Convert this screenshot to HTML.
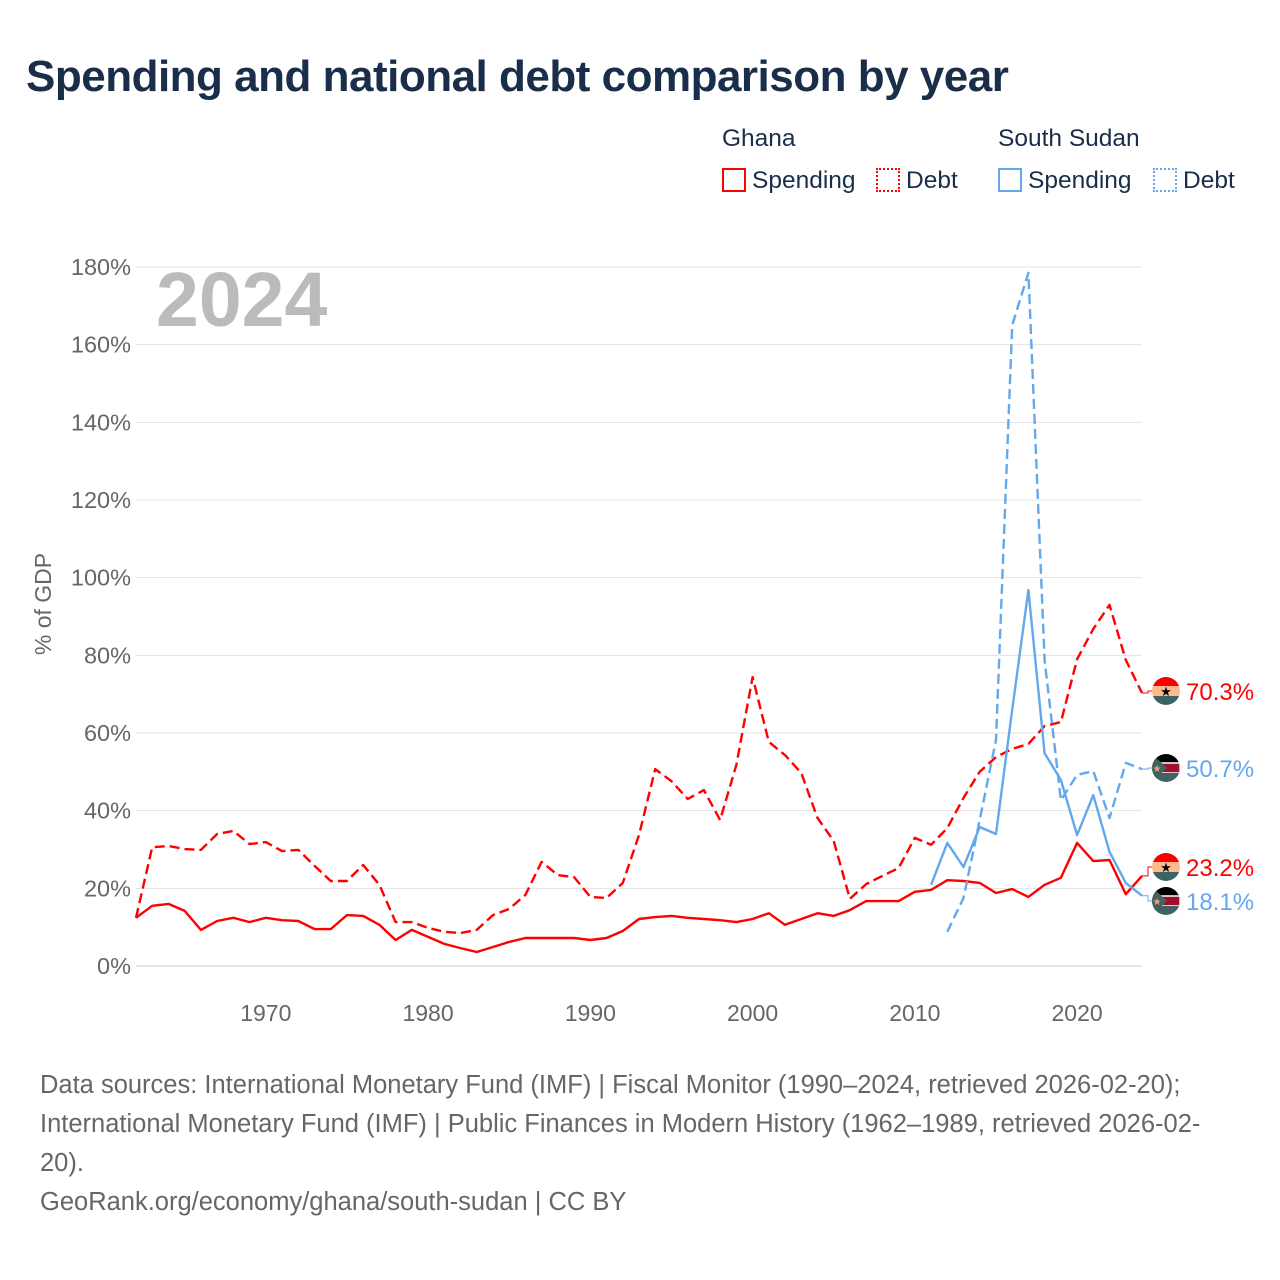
<!DOCTYPE html>
<html><head><meta charset="utf-8"><style>
body{margin:0;background:#fff;width:1280px;height:1280px;overflow:hidden;font-family:"Liberation Sans",sans-serif;}
#title{position:absolute;left:26px;top:52px;font-size:44px;font-weight:bold;color:#1a2e4a;letter-spacing:-0.5px;margin:0}
.lg{position:absolute;font-size:24.5px;color:#1a2e4a}
.sw{display:inline-block;width:24px;height:24px;box-sizing:border-box;vertical-align:-4px;margin-right:6px}
#src{position:absolute;left:40px;top:1066px;font-size:25.5px;line-height:39px;color:#666;width:1190px}
</style></head><body>
<h1 id="title">Spending and national debt comparison by year</h1>
<div class="lg" style="left:722px;top:125px">Ghana</div>
<div class="lg" style="left:998px;top:125px">South Sudan</div>
<div class="lg" style="left:722px;top:167px"><span class="sw" style="border:2px solid #f00"></span>Spending</div>
<div class="lg" style="left:876px;top:167px"><span class="sw" style="border:2px dotted #f00"></span>Debt</div>
<div class="lg" style="left:998px;top:167px"><span class="sw" style="border:2px solid #64a8ec"></span>Spending</div>
<div class="lg" style="left:1153px;top:167px"><span class="sw" style="border:2px dotted #64a8ec"></span>Debt</div>
<svg id="chart" width="1280" height="1280" style="position:absolute;left:0;top:0"></svg>
<div id="src">Data sources: International Monetary Fund (IMF) | Fiscal Monitor (1990–2024, retrieved 2026-02-20); International Monetary Fund (IMF) | Public Finances in Modern History (1962–1989, retrieved 2026-02-20).<br>GeoRank.org/economy/ghana/south-sudan | CC BY</div>
<script>
const yTicks=[0,20,40,60,80,100,120,140,160,180];
const xTicks=[1970,1980,1990,2000,2010,2020];
const ghanaYears0=1962;
const ghanaSpending=[12.4,15.5,16,14.2,9.3,11.6,12.4,11.3,12.4,11.8,11.6,9.5,9.5,13.1,12.9,10.6,6.7,9.3,7.5,5.7,4.6,3.6,4.9,6.2,7.2,7.2,7.2,7.2,6.7,7.2,9,12.1,12.6,12.9,12.4,12.1,11.8,11.3,12.1,13.6,10.6,12.1,13.6,12.9,14.4,16.7,16.7,16.7,19.1,19.6,22.1,21.9,21.4,18.8,19.8,17.8,20.9,22.7,31.7,27,27.3,18.5,23.2];
const ghanaDebt=[12.4,30.6,30.9,30.1,29.9,34,34.8,31.4,31.9,29.6,29.9,25.8,21.9,21.9,26,20.9,11.3,11.3,9.8,8.8,8.5,9.3,13.1,14.7,18.3,26.8,23.4,22.9,17.8,17.5,21.4,33.7,50.7,47.6,43,45.3,37.6,51.8,74.4,57.7,54.3,49.7,38.1,32.2,17.3,21.1,23.2,25.2,33,31.2,35.5,43.3,50,53.8,55.9,57.2,61.8,62.8,79,86.8,93,78.8,70.3];
const ssdSpendYear0=2011;
const ssdSpending=[20.9,31.7,25.5,35.8,34,66,96.8,54.8,47.9,33.7,44,29.4,21.4,18.1];
const ssdDebtYear0=2012;
const ssdDebt=[8.8,17.5,37.6,58.2,165,178.5,78.8,42.7,49.2,50.2,38.1,52.3,50.7];
const labels=[["70.3%",70.3,"#f00","gh"],["50.7%",50.7,"#64a8ec","ss"],["23.2%",23.2,"#f00","gh"],["18.1%",18.1,"#64a8ec","ss"]];

const X=yr=>136+(yr-1962)*(1142-136)/62;
const Y=v=>966-v*(966-267)/180;
const svg=document.getElementById('chart');
const NS='http://www.w3.org/2000/svg';
function mk(t,a,p){const e=document.createElementNS(NS,t);for(const k in a)e.setAttribute(k,a[k]);(p||svg).appendChild(e);return e;}
yTicks.forEach(v=>{
 const l=mk('line',{x1:136,x2:1142,y1:Y(v),y2:Y(v),stroke:v===0?'#ccc':'#e3e3e3','stroke-width':1});
 
 
 const t=mk('text',{x:131,y:Y(v)+8,'text-anchor':'end','font-size':23.5,fill:'#666','font-family':'Liberation Sans,sans-serif'});t.textContent=v+'%';
 
 
});
xTicks.forEach(yr=>{
 const t=mk('text',{x:X(yr),y:1021,'text-anchor':'middle','font-size':23,fill:'#666','font-family':'Liberation Sans,sans-serif'});t.textContent=yr;
 
 
});
const yt=mk('text',{x:0,y:0,transform:'translate(51,604) rotate(-90)','text-anchor':'middle','font-size':23,fill:'#666','font-family':'Liberation Sans,sans-serif'});yt.textContent='% of GDP';


const yr=mk('text',{x:156,y:326,'font-size':77,'font-weight':'bold',fill:'#bbb','font-family':'Liberation Sans,sans-serif'});yr.textContent='2024';


function series(arr,y0,color,dash,name){
 const pts=arr.map((v,i)=>X(y0+i).toFixed(1)+','+Y(v).toFixed(1)).join(' ');
 const p=mk('polyline',{points:pts,fill:'none',stroke:color,'stroke-width':2.4,'stroke-dasharray':dash||'none','stroke-linejoin':'round'});
 
 
}
series(ghanaDebt,ghanaYears0,'#f00','10,5','line-ghana-debt');
series(ghanaSpending,ghanaYears0,'#f00','','line-ghana-spending');
series(ssdDebt,ssdDebtYear0,'#64a8ec','10,5','line-ssd-debt');
series(ssdSpending,ssdSpendYear0,'#64a8ec','','line-ssd-spending');
const labY=[691,768,867,901];
labels.forEach((L,i)=>{
 const yv=Y(L[1]),yl=labY[i];
 const c=mk('polyline',{points:`1142,${yv} 1148,${yv} 1148,${yl} 1154,${yl}`,fill:'none',stroke:L[2],'stroke-width':1});
 
 
 const g=mk('g',{});
 
 
 const cid='c'+i;
 const cp=mk('clipPath',{id:cid},g);mk('circle',{cx:1166,cy:yl,r:14},cp);
 const gg=mk('g',{'clip-path':`url(#${cid})`},g);
 if(L[3]==='gh'){
  mk('rect',{x:1152,y:yl-14,width:28,height:9,fill:'#f00'},gg);
  mk('rect',{x:1152,y:yl-5,width:28,height:10,fill:'#fdb98f'},gg);
  mk('rect',{x:1152,y:yl+5,width:28,height:9,fill:'#3f6360'},gg);
  const s=mk('text',{x:1166,y:yl+5,'text-anchor':'middle','font-size':13,fill:'#000'},gg);s.textContent='★';
 }else{
  mk('rect',{x:1152,y:yl-14,width:28,height:9,fill:'#000'},gg);
  mk('rect',{x:1152,y:yl-5,width:28,height:10,fill:'#a0102a',stroke:'#fff','stroke-width':1.5},gg);
  mk('rect',{x:1152,y:yl+5,width:28,height:9,fill:'#3f6360'},gg);
  mk('polygon',{points:`1152,${yl-14} 1167,${yl} 1152,${yl+14}`,fill:'#3f6360'},gg);
  const s=mk('text',{x:1157,y:yl+4,'text-anchor':'middle','font-size':10,fill:'#f4a070'},gg);s.textContent='★';
 }
 const t=mk('text',{x:1186,y:yl+9,'font-size':24,fill:L[2],'font-family':'Liberation Sans,sans-serif'});t.textContent=L[0];
 
 
});
</script>
</body></html>
